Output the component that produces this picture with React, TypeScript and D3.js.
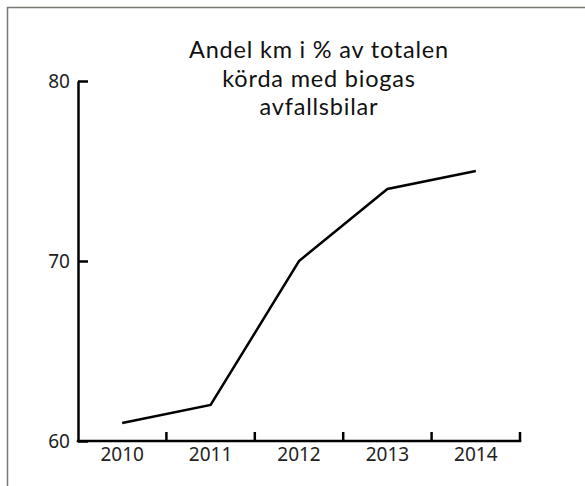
import React, { useEffect, useRef } from "react";
import * as d3 from "d3";

// data
const years = ["2010", "2011", "2012", "2013", "2014"];
const shares = [61, 62, 70, 74, 75];
const yTicks = [60, 70, 80];
const titleLines = ["Andel km i % av totalen", "körda med biogas", "avfallsbilar"];

const W = 585;
const H = 486;
const margin = { top: 81, right: 65, bottom: 45, left: 78 };

export default function App() {
  const ref = useRef<SVGSVGElement>(null);

  useEffect(() => {
    const svg = d3.select(ref.current);
    svg.selectAll("*").remove();

    // frame, only left and top edges fall inside the window
    svg.append("rect")
      .attr("x", 7.5).attr("y", 7.5)
      .attr("width", W + 20).attr("height", H + 20)
      .attr("fill", "white")
      .attr("stroke", "#7a7672")
      .attr("stroke-width", 1.5);

    const x = d3.scaleBand<string>()
      .domain(years)
      .range([margin.left, W - margin.right])
      .padding(0);

    const y = d3.scaleLinear()
      .domain([60, 80])
      .range([H - margin.bottom, margin.top]);

    // title, one text per line
    svg.append("g").selectAll("text")
      .data(titleLines)
      .enter().append("text")
      .attr("x", 319)
      .attr("y", (_, i) => 58 + i * 28.5)
      .attr("text-anchor", "middle")
      .style("font-family", "Lato, 'Noto Sans', sans-serif")
      .style("font-size", "23.5px")
      .style("letter-spacing", "0.8px")
      .attr("fill", "#111")
      .text((d) => d);

    // y axis, ticks pointing inward
    const yAxis = svg.append("g")
      .attr("transform", `translate(${margin.left},0)`)
      .call(d3.axisLeft(y).tickValues(yTicks).tickSizeInner(-10).tickSizeOuter(0).tickPadding(8));
    yAxis.select(".domain").attr("stroke", "#000").attr("stroke-width", 2.5);
    yAxis.selectAll(".tick line").attr("stroke", "#000").attr("stroke-width", 2.5);
    yAxis.selectAll(".tick text")
      .style("font-family", "'Noto Sans', sans-serif")
      .style("font-size", "19px")
      .attr("fill", "#222");

    // x axis: labels in band centres, ticks on band boundaries
    const xAxis = svg.append("g")
      .attr("transform", `translate(0,${H - margin.bottom})`)
      .call(d3.axisBottom(x).tickSize(0).tickPadding(6));
    xAxis.select(".domain").remove();
    xAxis.selectAll(".tick text")
      .style("font-family", "'Noto Sans', sans-serif")
      .style("font-size", "19px")
      .attr("fill", "#222");

    const base = H - margin.bottom;
    svg.append("line")
      .attr("x1", margin.left - 1.25).attr("x2", W - margin.right + 1.25)
      .attr("y1", base).attr("y2", base)
      .attr("stroke", "#000").attr("stroke-width", 2.5);

    svg.append("g").selectAll("line")
      .data(years)
      .enter().append("line")
      .attr("x1", (d) => (x(d) as number) + x.bandwidth())
      .attr("x2", (d) => (x(d) as number) + x.bandwidth())
      .attr("y1", base).attr("y2", base - 9)
      .attr("stroke", "#000").attr("stroke-width", 2.5);

    // the series
    const line = d3.line<number>()
      .x((_, i) => (x(years[i]) as number) + x.bandwidth() / 2)
      .y((d) => y(d));

    svg.append("path")
      .datum(shares)
      .attr("d", line)
      .attr("fill", "none")
      .attr("stroke", "#000")
      .attr("stroke-width", 2.5);
  }, []);

  return (
    <svg
      ref={ref}
      width={W}
      height={H}
      style={{ position: "absolute", left: 0, top: 0, background: "white" }}
    />
  );
}
